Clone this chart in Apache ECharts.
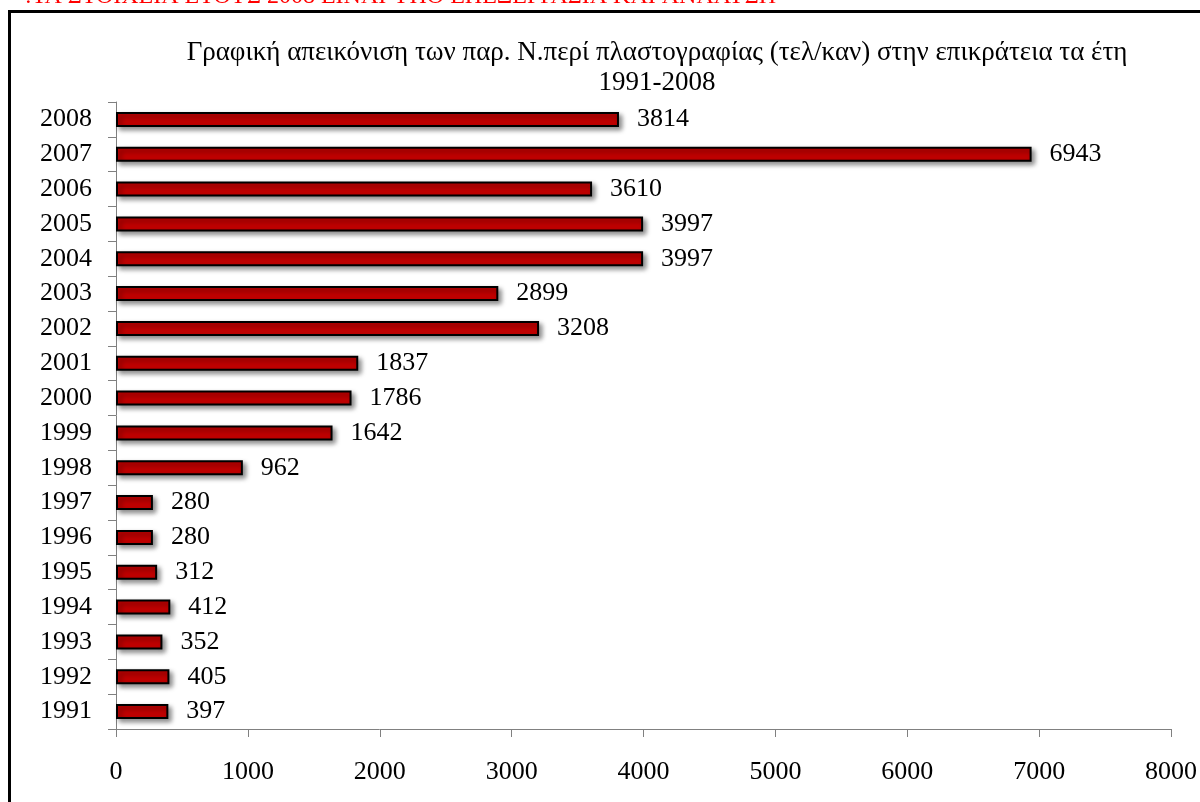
<!DOCTYPE html>
<html>
<head>
<meta charset="utf-8">
<script src="https://cdn.jsdelivr.net/npm/echarts@6/dist/echarts.min.js"></script>
<style>
    html, body { margin: 0; padding: 0; background: #fff; }
    #bar-chart { width: 1200px; height: 802px; }
</style>
</head>
<body>
<div id="bar-chart"></div>
<script>
// 数据
const years = ['1991', '1992', '1993', '1994', '1995', '1996', '1997', '1998', '1999',
    '2000', '2001', '2002', '2003', '2004', '2005', '2006', '2007', '2008'];
const cases = [397, 405, 352, 412, 312, 280, 280, 962, 1642,
    1786, 1837, 3208, 2899, 3997, 3997, 3610, 6943, 3814];
const titleText = 'Γραφική απεικόνιση των παρ. Ν.περί πλαστογραφίας (τελ/καν) στην επικράτεια τα έτη\n1991-2008';
const noteText = ':ΤΑ ΣΤΟΙΧΕΙΑ ΕΤΟΥΣ 2008 ΕΙΝΑΙ ΥΠΟ ΕΠΕΞΕΡΓΑΣΙΑ ΚΑΙ ΑΝΑΛΥΣΗ';

const font = '"Liberation Serif", "DejaVu Serif", serif';

// 横向柱状图
function getBarChart(years, cases) {
    const barChart = echarts.init(document.querySelector('#bar-chart'));
    barChart.setOption({
        animation: false,
        textStyle: {
            fontFamily: font,
        },
        title: {
            text: titleText,
            left: 652,
            textAlign: 'center',
            top: 33,
            textStyle: {
                fontFamily: font,
                fontSize: 27,
                fontWeight: 'normal',
                color: '#000',
                lineHeight: 30,
            }
        },
        graphic: [
            {
                type: 'rect',
                shape: { x: 9.5, y: 11.5, width: 1300, height: 900 },
                style: { fill: 'none', stroke: '#000', lineWidth: 3 },
                silent: true,
            },
            {
                type: 'text',
                x: 25,
                y: -3,
                style: {
                    text: noteText,
                    fill: '#ff0000',
                    font: '24px ' + font,
                    textAlign: 'left',
                    textVerticalAlign: 'middle',
                }
            }
        ],
        grid: {
            left: 116,
            right: 28,
            top: 102,
            bottom: 73,
            containLabel: false,
        },
        xAxis: {
            type: 'value',
            min: 0,
            max: 8000,
            interval: 1000,
            axisLine: {
                show: true,
                lineStyle: { color: '#808080', width: 1 }
            },
            axisTick: {
                show: true,
                length: 8,
                lineStyle: { color: '#808080' }
            },
            axisLabel: {
                color: '#000',
                fontSize: 26,
                fontFamily: font,
                margin: 30,
                formatter: value => String(value),
            },
            splitLine: { show: false },
        },
        yAxis: {
            type: 'category',
            data: years,
            axisLine: {
                show: true,
                lineStyle: { color: '#808080', width: 1 }
            },
            axisTick: {
                show: true,
                length: 8,
                lineStyle: { color: '#808080' }
            },
            axisLabel: {
                color: '#000',
                fontSize: 26,
                fontFamily: font,
                margin: 24,
            },
        },
        series: [
            {
                type: 'bar',
                data: cases,
                barWidth: '43%',
                itemStyle: {
                    color: '#c00000',
                    borderColor: '#000',
                    borderWidth: 2,
                    shadowColor: 'rgba(0, 0, 0, 0.45)',
                    shadowBlur: 5,
                    shadowOffsetX: 3,
                    shadowOffsetY: 3,
                },
                label: {
                    show: true,
                    position: 'right',
                    distance: 18,
                    color: '#000',
                    fontSize: 26,
                    fontFamily: font,
                }
            }
        ]
    });
}
getBarChart(years, cases);
</script>
</body>
</html>
